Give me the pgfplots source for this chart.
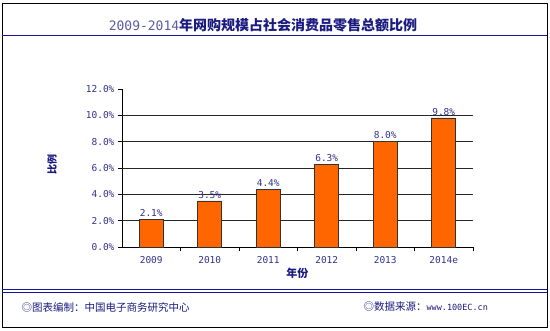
\documentclass[border=0pt]{standalone}
\usepackage{fontspec}
\setmainfont{Liberation Sans}
\newfontfamily\cjk{Noto Sans CJK SC}
\newfontfamily\monof{DejaVu Sans Mono}
\usepackage{pgfplots}
\usepackage{pgfplotstable}
\pgfplotsset{compat=1.18}
\definecolor{navy}{RGB}{26,26,128}
\definecolor{ticknavy}{RGB}{51,51,140}
\definecolor{linecol}{RGB}{20,20,160}
\definecolor{barfill}{RGB}{255,102,0}
\pgfplotstableread{
x y lab
0 2.1 2.1\%
1 3.5 3.5\%
2 4.4 4.4\%
3 6.3 6.3\%
4 8.0 8.0\%
5 9.8 9.8\%
}\datatab
\begin{document}
\begin{tikzpicture}
\path[use as bounding box] (0pt,0pt) rectangle (550pt,330pt);
\fill[white] (0pt,0pt) rectangle (550pt,330pt);
\draw[black, line width=0.8pt] (2pt,3pt) rectangle (547pt,327pt);
% title
\node[text=navy, font=\cjk\fontsize{14}{16}\selectfont] at (263pt,305pt) {{\monof\fontsize{13}{16}\selectfont\color{ticknavy!80}2009-2014}\textbf{年网购规模占社会消费品零售总额比例}};
\draw[linecol, line width=1pt] (2pt,294pt) -- (547pt,294pt);
\draw[linecol, line width=0.8pt] (2pt,41pt) -- (547pt,41pt);
\draw[linecol, line width=0.8pt] (2pt,37.5pt) -- (547pt,37.5pt);
\node[anchor=west, text=navy, font=\cjk\fontsize{10.5}{12}\selectfont] at (18pt,23pt) {◎图表编制：中国电子商务研究中心};
\node[anchor=west, text=navy, font=\cjk\fontsize{10.5}{12}\selectfont] at (360pt,23pt) {◎数据来源：{\monof\fontsize{8.5}{10}\selectfont www.100EC.cn}};
\node[rotate=90, text=navy, font=\cjk\bfseries\fontsize{10}{12}\selectfont] at (52pt,165pt) {比例};
\begin{axis}[
  at={(122pt,83pt)}, anchor=south west,
  scale only axis, width=351pt, height=158pt,
  xmin=-0.5, xmax=5.5, ymin=0, ymax=12,
  axis lines=left, axis line style={-, black, line width=0.8pt},
  xtick={0,...,5},
  xticklabels={2009,2010,2011,2012,2013,2014e},
  major x tick style={draw=none},
  minor xtick={0.5,1.5,...,5.5},
  minor x tick style={black, line width=0.6pt},
  minor tick length=4pt,
  ytick={0,2,...,12},
  major tick length=4pt,
  tick align=outside,
  ytick style={black, line width=0.6pt},
  yticklabel={\pgfmathprintnumber[fixed,fixed zerofill,precision=1]{\tick}\%},
  /pgf/number format/assume math mode=true,
  extra y ticks={2,4,6,8,10},
  extra y tick labels={},
  extra y tick style={grid=major, major grid style={black!85, line width=0.6pt}, major tick length=0pt},
  ticklabel style={font=\monof\fontsize{9.5}{10}\selectfont, text=ticknavy},
  xticklabel style={yshift=-2pt},
  xlabel={\cjk\bfseries 年份},
  xlabel style={font=\fontsize{11}{12}\selectfont, text=navy, yshift=3pt},
  clip=false,
]
\addplot[ybar, bar width=24pt, fill=barfill, draw=black!80, line width=0.6pt,
  nodes near coords, point meta=explicit symbolic,
  every node near coord/.append style={font=\monof\fontsize{9.5}{10}\selectfont, text=ticknavy, yshift=-1pt}]
  table[x=x, y=y, meta=lab] {\datatab};
\end{axis}
\end{tikzpicture}
\end{document}
